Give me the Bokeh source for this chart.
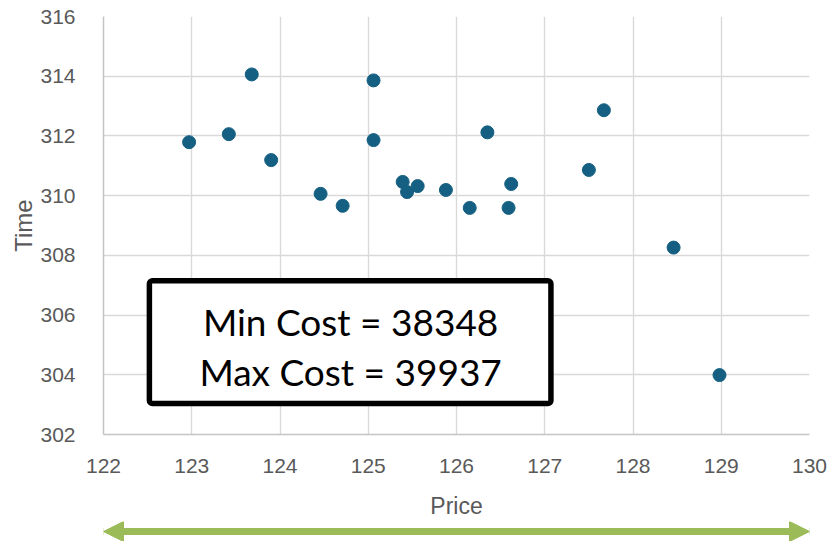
from bokeh.plotting import figure
from bokeh.layouts import column
from bokeh.models import (Range1d, FixedTicker, BoxAnnotation, Label, Arrow,
                          NormalHead, ColumnDataSource)
from bokeh.embed import file_html
from bokeh.resources import INLINE

# Price / Time observations
price = [122.97, 123.42, 123.68, 123.90, 124.46, 124.71, 125.06, 125.06, 125.39, 125.44,
         125.56, 125.88, 126.15, 126.35, 126.59, 126.62, 127.50, 127.67, 128.46, 128.98]
time = [311.79, 312.06, 314.06, 311.19, 310.06, 309.66, 313.86, 311.86, 310.46, 310.12,
        310.32, 310.19, 309.59, 312.12, 309.59, 310.39, 310.86, 312.86, 308.26, 303.99]

x_ticks = [122, 123, 124, 125, 126, 127, 128, 129, 130]
y_ticks = [302, 304, 306, 308, 310, 312, 314, 316]

min_cost = 38348
max_cost = 39937

GRID = "#D9D9D9"
AXIS = "#C4C4C4"
TEXT = "#595959"
DOT = "#156082"
GREEN = "#9BBB59"

p = figure(width=829, height=521, output_backend="svg", toolbar_location=None,
           x_range=Range1d(x_ticks[0], x_ticks[-1]), y_range=Range1d(y_ticks[0], y_ticks[-1]),
           min_border_left=103, min_border_right=20, min_border_top=16, min_border_bottom=85)
p.outline_line_color = None
p.background_fill_color = "white"
p.border_fill_color = "white"

for ax, ticks in ((p.xaxis, x_ticks), (p.yaxis, y_ticks)):
    ax.ticker = FixedTicker(ticks=ticks)
    ax.major_tick_line_color = None
    ax.minor_tick_line_color = None
    ax.axis_line_color = AXIS
    ax.axis_line_width = 1.5
    ax.major_label_text_font = "Liberation Sans"
    ax.major_label_text_font_size = "21px"
    ax.major_label_text_color = TEXT
    ax.axis_label_text_font = "Liberation Sans"
    ax.axis_label_text_font_style = "normal"
    ax.axis_label_text_color = TEXT

p.xaxis.axis_label = "Price"
p.yaxis.axis_label = "Time"
p.xaxis.axis_label_text_font_size = "23px"
p.yaxis.axis_label_text_font_size = "24px"
p.xaxis.major_label_standoff = 18
p.yaxis.major_label_standoff = 22
p.xaxis.axis_label_standoff = 17
p.yaxis.axis_label_standoff = 0

p.xgrid.ticker = FixedTicker(ticks=x_ticks)
p.ygrid.ticker = FixedTicker(ticks=y_ticks)
p.grid.grid_line_color = GRID
p.grid.grid_line_width = 1.4

src = ColumnDataSource(dict(price=price, time=time))
p.scatter("price", "time", source=src, size=13, fill_color=DOT, line_color=DOT)

# cost summary box
box = BoxAnnotation(left=122.52, right=127.07, bottom=303.04, top=307.15,
                    fill_color="white", fill_alpha=1.0, line_color="black",
                    line_width=5.5, line_alpha=1.0, border_radius=3)
p.add_layout(box)
for txt, yy in ((f"Min Cost = {min_cost}", 305.8), (f"Max Cost = {max_cost}", 304.12)):
    p.add_layout(Label(x=124.8, y=yy, text=txt, text_align="center", text_baseline="middle",
                       text_font="Lato", text_font_size="37px", text_color="black"))

# double-headed green arrow under the price axis, spanning the price range
q = figure(width=829, height=20, output_backend="svg", toolbar_location=None,
           x_range=p.x_range, y_range=Range1d(0, 1),
           min_border_left=103, min_border_right=20, min_border_top=0, min_border_bottom=0)
q.axis.visible = False
q.grid.visible = False
q.outline_line_color = None
q.background_fill_color = "white"
q.add_layout(Arrow(x_start=x_ticks[0], y_start=0.5, x_end=x_ticks[-1], y_end=0.5,
                   line_color=GREEN, line_width=7,
                   start=NormalHead(size=20, fill_color=GREEN, line_color=GREEN),
                   end=NormalHead(size=20, fill_color=GREEN, line_color=GREEN)))

layout = column(p, q, spacing=0)
open("out.html", "w").write(file_html(layout, INLINE))
